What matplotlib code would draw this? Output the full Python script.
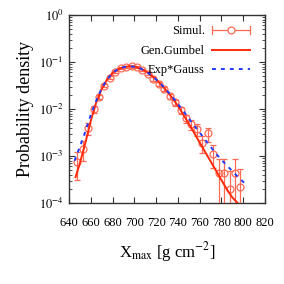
import numpy as np
import matplotlib
matplotlib.use("Agg")
import matplotlib.pyplot as plt
from matplotlib.lines import Line2D
from matplotlib.legend_handler import HandlerBase

# Simulated histogram (Xmax bin centres, log10 density, relative error)
sim_x = [647.5, 652.5, 657.5, 662.5, 667.5, 672.5, 677.5, 682.5, 687.5, 692.5,
         697.5, 702.5, 707.5, 712.5, 717.5, 722.5, 727.5, 732.5, 737.5, 742.5,
         747.5, 752.5, 757.5, 762.5, 767.5, 772.5, 777.5, 782.5, 787.5, 792.5, 797.5]
sim_logp = [-3.12, -2.85, -2.40, -2.00, -1.74, -1.50, -1.33, -1.21, -1.13, -1.10,
            -1.09, -1.11, -1.17, -1.25, -1.36, -1.46, -1.58, -1.73, -1.86, -2.02,
            -2.20, -2.32, -2.42, -2.72, -2.52, -2.95, -3.37, -3.37, -3.70, -3.37, -3.66]
sim_relerr = [0.6, 0.45, 0.28, 0.17, 0.12, 0.09, 0.08, 0.07, 0.06, 0.06,
              0.06, 0.06, 0.06, 0.07, 0.08, 0.09, 0.10, 0.12, 0.14, 0.17,
              0.21, 0.25, 0.28, 0.4, 0.34, 0.5, 1.0, 1.0, 1.4, 1.0, 1.4]

# Generalized Gumbel fit curve (log10 density)
gum_x = [646, 650, 655, 660, 665, 670, 675, 680, 685, 690, 695, 700, 705, 710,
         715, 720, 725, 730, 735, 740, 745, 750, 755, 760, 765, 770, 775, 780,
         785, 790, 795]
gum_logp = [-3.45, -3.15, -2.72, -2.25, -1.86, -1.57, -1.37, -1.23, -1.15, -1.11,
            -1.09, -1.10, -1.13, -1.19, -1.27, -1.37, -1.49, -1.62, -1.77, -1.93,
            -2.12, -2.31, -2.51, -2.71, -2.91, -3.11, -3.31, -3.51, -3.71, -3.88, -4.0]

# Exp*Gauss fit curve (log10 density)
eg_x = [645, 650, 655, 660, 665, 670, 675, 680, 685, 690, 695, 700, 705, 710,
        715, 720, 725, 730, 735, 740, 745, 750, 755, 760, 765, 770, 775, 780,
        785, 790, 795, 801]
eg_logp = [-3.10, -2.80, -2.48, -2.12, -1.82, -1.56, -1.37, -1.23, -1.15, -1.11,
           -1.09, -1.10, -1.13, -1.19, -1.27, -1.37, -1.48, -1.61, -1.74, -1.89,
           -2.04, -2.20, -2.35, -2.50, -2.65, -2.80, -2.95, -3.08, -3.20, -3.32, -3.44, -3.57]

plt.rcParams['font.family'] = ['Liberation Serif', 'DejaVu Serif']
plt.rcParams['mathtext.fontset'] = 'stix'

pt_col = '#ff6a55'


class SimHandler(HandlerBase):
    def create_artists(self, legend, orig_handle, xdescent, ydescent, width,
                       height, fontsize, trans):
        y = height / 2 - ydescent
        x0 = -xdescent
        x1 = x0 + width
        h = 2.8
        arts = [
            Line2D([x0, x1], [y, y], color=pt_col, lw=0.9),
            Line2D([x0, x0], [y - h, y + h], color=pt_col, lw=0.9),
            Line2D([x1, x1], [y - h, y + h], color=pt_col, lw=0.9),
            Line2D([(x0 + x1) / 2], [y], marker='o', ms=5, mfc='white',
                   mec=pt_col, mew=0.9, ls='none'),
        ]
        for a in arts:
            a.set_transform(trans)
        return arts


fig = plt.figure(figsize=(2.84, 2.84), dpi=100)
ax = fig.add_axes([0.243, 0.285, 0.690, 0.662])

sx = np.array(sim_x)
sp = 10 ** np.array(sim_logp)
se = sp * np.array(sim_relerr)
lo = np.minimum(se, sp * 0.999)

ax.errorbar(sx, sp, yerr=[lo, se], fmt='o', ms=5, mfc='none',
            mec=pt_col, mew=0.9, ecolor=pt_col, elinewidth=0.9, capsize=2.2,
            capthick=0.9, zorder=3)
sim_h = Line2D([], [], color=pt_col)
gum_h, = ax.plot(gum_x, 10 ** np.array(gum_logp), color='#ff2a0a', lw=1.4,
                 zorder=4)
eg_h, = ax.plot(eg_x, 10 ** np.array(eg_logp), color='#1f3cff', lw=1.4,
                ls=(0, (2, 2.6)), zorder=5)

ax.set_yscale('log')
ax.set_xlim(640, 820)
ax.set_ylim(1e-4, 1)
ax.set_xticks(np.arange(640, 821, 20))
ax.set_yticks([1e-4, 1e-3, 1e-2, 1e-1, 1e0])
ax.set_yticklabels([r'$10^{-4}$', r'$10^{-3}$', r'$10^{-2}$', r'$10^{-1}$', r'$10^{0}$'])
ax.tick_params(which='both', direction='in', top=True, right=True, labelsize=9,
               color='#333333')
ax.tick_params(axis='x', pad=10)
ax.tick_params(axis='y', pad=4)
ax.tick_params(which='major', length=4, width=0.8)
ax.tick_params(which='minor', length=2, width=0.6)
ax.tick_params(axis='x', which='minor', bottom=False, top=False)
for s in ax.spines.values():
    s.set_linewidth(1.0)
    s.set_color('#333333')

ax.set_ylabel('Probability density', fontsize=13, labelpad=3)
ax.set_xlabel(r'X$_{\rm max}$ [g cm$^{-2}$]', fontsize=12, labelpad=8)

leg = ax.legend([sim_h, gum_h, eg_h], ['Simul.', 'Gen.Gumbel', 'Exp*Gauss'],
                handler_map={sim_h: SimHandler()},
                loc='upper right', bbox_to_anchor=(0.923, 0.945),
                frameon=False, markerfirst=False, fontsize=9,
                handlelength=3.0, labelspacing=0.6, borderaxespad=0.0,
                borderpad=0.0, handletextpad=0.6)

fig.savefig('out.png', dpi=100)
